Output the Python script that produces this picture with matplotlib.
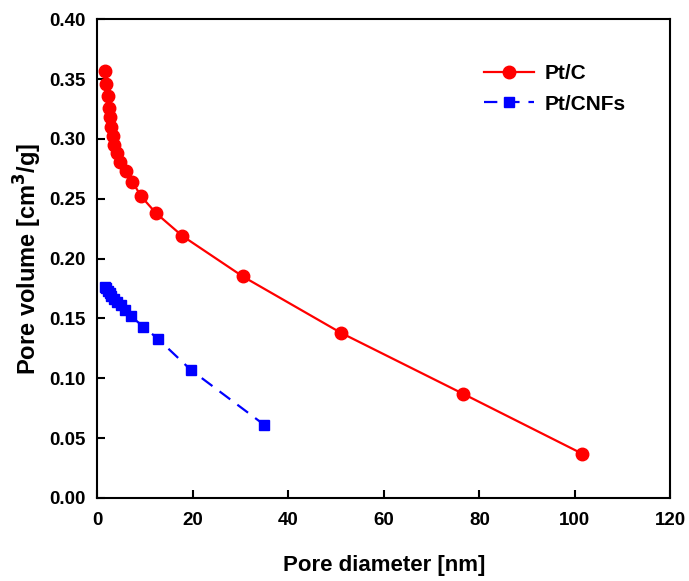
import matplotlib
matplotlib.use("Agg")
import matplotlib.pyplot as plt

plt.rcParams["font.family"] = ["Liberation Sans", "DejaVu Sans"]
plt.rcParams["font.weight"] = "bold"

# Pt/C
ptc_d = [1.6, 1.9, 2.2, 2.5, 2.7, 3.0, 3.3, 3.6, 4.1, 4.8, 6.1, 7.4, 9.2, 12.3, 17.8, 30.5, 51.0, 76.6, 101.5]
ptc_v = [0.357, 0.346, 0.336, 0.326, 0.318, 0.310, 0.302, 0.295, 0.288, 0.281, 0.273, 0.264, 0.252, 0.238, 0.219, 0.185, 0.138, 0.087, 0.037]

# Pt/CNFs
cnf_d = [1.6, 1.9, 2.2, 2.6, 3.0, 3.5, 4.1, 4.9, 5.9, 7.0, 9.7, 12.7, 19.6, 35.0]
cnf_v = [0.176, 0.175, 0.173, 0.171, 0.169, 0.166, 0.164, 0.161, 0.157, 0.152, 0.143, 0.133, 0.107, 0.061]

x_ticks = [0, 20, 40, 60, 80, 100, 120]
y_ticks = [0.00, 0.05, 0.10, 0.15, 0.20, 0.25, 0.30, 0.35, 0.40]

fig = plt.figure(figsize=(6.89, 5.81), dpi=100)
ax = fig.add_axes([0.141, 0.143, 0.832, 0.824])

ax.plot(ptc_d, ptc_v, color="#ff0000", linestyle="-", linewidth=1.6,
        marker="o", markersize=9, label="Pt/C")
ax.plot(cnf_d, cnf_v, color="#0000ff", linestyle=(0, (6, 4)), linewidth=1.6,
        marker="s", markersize=7, label="Pt/CNFs")

ax.set_xlim(0, 120)
ax.set_ylim(0, 0.40)
ax.set_xticks(x_ticks)
ax.set_yticks(y_ticks)
ax.set_yticklabels([f"{v:.2f}" for v in y_ticks])
ax.tick_params(direction="in", length=6, width=1.5, labelsize=13.5, pad=8)
ax.tick_params(axis="x", pad=10)
for lbl in ax.get_xticklabels() + ax.get_yticklabels():
    lbl.set_fontweight("bold")
for spine in ax.spines.values():
    spine.set_linewidth(1.5)

ax.set_xlabel("Pore diameter [nm]", fontsize=16, fontweight="bold", labelpad=19)
ax.set_ylabel("Pore volume [cm$^3$/g]", fontsize=17, fontweight="bold", labelpad=4)

ax.legend(loc="upper right", frameon=False, handlelength=2.4, handletextpad=0.5,
          labelspacing=0.55, bbox_to_anchor=(0.955, 0.945),
          prop={"weight": "bold", "size": 15})

fig.savefig("out.png", dpi=100)
